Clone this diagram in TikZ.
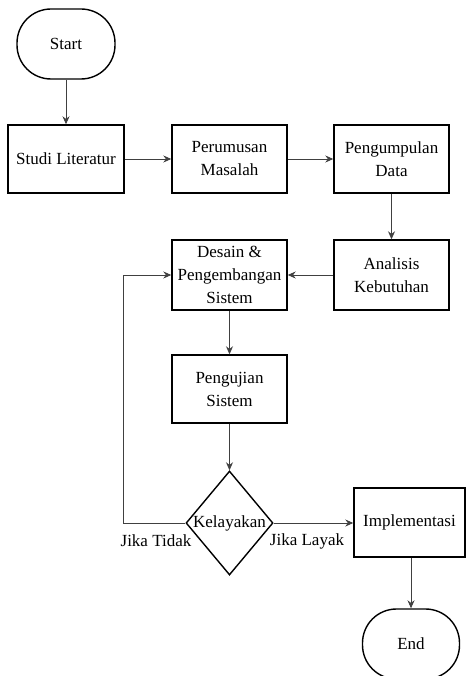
\documentclass[tikz,border=0pt]{standalone}
\usepackage{fontspec}
\setmainfont{Liberation Serif}
\usetikzlibrary{%
  positioning,
  shapes.geometric,
  arrows.meta,
}

\tikzset{
  box/.style={draw, line width=1.4pt, minimum width=115pt,
    minimum height=68pt, align=center, inner sep=2pt},
  terminal/.style={draw, line width=1.4pt, rounded corners=34pt,
    minimum width=98pt, minimum height=70pt},
  decision/.style={draw, diamond, line width=1.4pt, inner sep=0pt,
    minimum width=87pt, minimum height=104pt},
  flow/.style={->, line width=0.9pt, draw=black!75},
  caption/.style={inner sep=1pt},
}

\begin{document}
\begin{tikzpicture}[x=1pt, y=-1pt, >={Stealth[length=8pt, width=7pt]},
    font=\fontsize{17}{23}\selectfont]
        \useasboundingbox (0,0) rectangle (466,676);

        % top row
        \node[terminal] (start) at (66,44) {Start};
        \node[box, minimum width=116pt] (studi) at (66,159) {Studi Literatur};
        \node[box] (rumus) at (229.5,159) {Perumusan\\Masalah};
        \node[box] (kumpul) at (391.5,159) {Pengumpulan\\Data};

        % middle
        \node[box, minimum height=70pt] (analisis) at (391.5,275)
          {Analisis\\Kebutuhan};
        \node[box, minimum height=70pt, inner sep=0pt] (desain) at (229.5,275)
          {Desain \&\\Pengembangan\\Sistem};
        \node[box] (uji) at (229.5,389) {Pengujian\\Sistem};

        % bottom
        \node[decision, label=center:Kelayakan] (layak) at (229.5,523) {};
        \node[box, minimum width=111pt, minimum height=69pt] (impl)
          at (409.5,522.5) {Implementasi};
        \node[terminal, minimum width=97pt] (end) at (411,644) {End};
        \coordinate (loop) at (123,523);

        \node[caption] (tidak) at (156,541) {Jika Tidak};
        \node[caption] (ya) at (307,541) {Jika Layak};

        \draw[flow] (start) -- (studi);
        \draw[flow] (studi) -- (rumus);
        \draw[flow] (rumus) -- (kumpul);
        \draw[flow] (kumpul) -- (analisis);
        \draw[flow] (analisis) -- (desain);
        \draw[flow] (desain) -- (uji);
        \draw[flow] (uji) -- (layak);
        \draw[flow] (layak.east) -- (impl.west |- layak.east);
        \draw[flow] (layak.west) -- (loop) |- (desain.west);
        \draw[flow] (impl.south -| end.north) -- (end);
\end{tikzpicture}
\end{document}
